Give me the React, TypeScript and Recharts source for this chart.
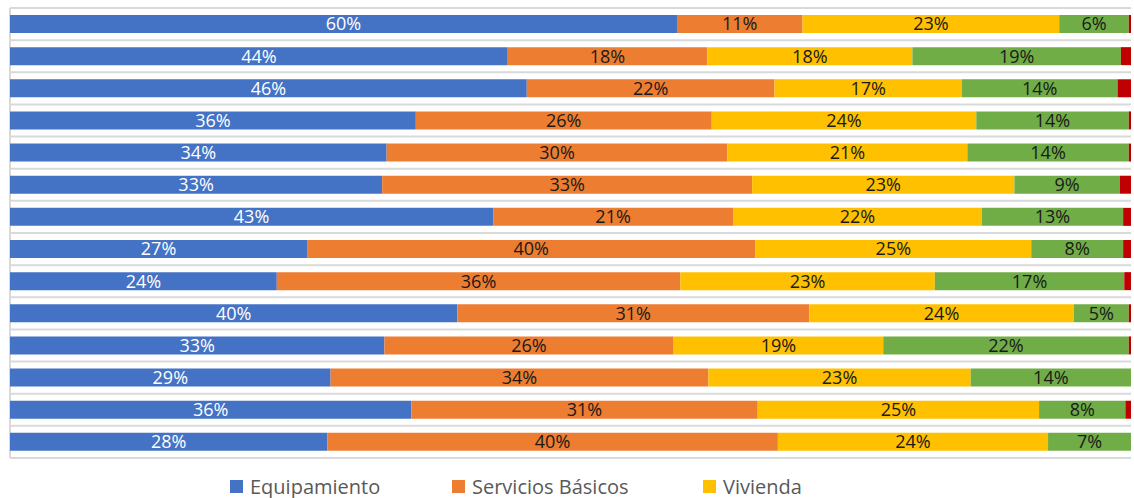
import React from "react";
import {
  BarChart,
  Bar,
  XAxis,
  YAxis,
  CartesianGrid,
  Legend,
  LabelList,
} from "recharts";

const categories = [
  "1", "2", "3", "4", "5", "6", "7", "8", "9", "10", "11", "12", "13", "14",
];

const equipamiento = [59.5, 44.4, 46.1, 36.2, 33.6, 33.2, 43.1, 26.5, 23.8, 39.9, 33.4, 28.6, 35.8, 28.3];
const serviciosBasicos = [11.2, 17.8, 22.1, 26.4, 30.4, 33.0, 21.4, 40.0, 36.0, 31.4, 25.8, 33.7, 30.9, 40.2];
const vivienda = [22.9, 18.3, 16.7, 23.6, 21.4, 23.4, 22.2, 24.6, 22.7, 23.6, 18.7, 23.4, 25.1, 24.1];
const espacioPublico = [6.2, 18.6, 13.9, 13.6, 14.4, 9.4, 12.6, 8.2, 16.9, 4.9, 21.9, 14.3, 7.7, 7.4];
const otros = [0.2, 0.9, 1.2, 0.2, 0.2, 1.0, 0.7, 0.7, 0.6, 0.2, 0.2, 0, 0.5, 0];

const data = categories.map((name, i) => ({
  name,
  equipamiento: equipamiento[i],
  servicios: serviciosBasicos[i],
  vivienda: vivienda[i],
  espacio: espacioPublico[i],
  otros: otros[i],
}));

const FONT = "'Open Sans', sans-serif";
const pct = (v: any) => `${Math.round(Number(v))}%`;

// only the first row of the legend is visible in the reference
const legendShown = ["Equipamiento", "Servicios Básicos", "Vivienda"];
const legendLeft = [230, 452, 703];

function LegendContent({ payload }: any) {
  const items = legendShown
    .map((name) => (payload || []).find((p: any) => p.value === name))
    .filter(Boolean);
  return (
    <div style={{ position: "relative", height: 26, fontFamily: FONT }}>
      {items.map((it: any, i: number) => (
        <div
          key={it.value}
          style={{
            position: "absolute",
            left: legendLeft[i],
            top: 0,
            display: "flex",
            alignItems: "center",
            whiteSpace: "nowrap",
          }}
        >
          <span
            style={{
              width: 13,
              height: 13,
              background: it.color,
              display: "inline-block",
              marginRight: 7,
            }}
          />
          <span style={{ fontSize: 20, color: "#595959" }}>{it.value}</span>
        </div>
      ))}
    </div>
  );
}

const labelStyle = { fontFamily: FONT, fontSize: 18 };

export default function App() {
  return (
    <div style={{ position: "absolute", left: 0, top: 0, background: "#fff" }}>
      <BarChart
        width={1134}
        height={498}
        data={data}
        layout="vertical"
        margin={{ top: 8, right: 3, bottom: 14, left: 10 }}
        barSize={18}
      >
        <CartesianGrid
          stroke="#d9d9d9"
          strokeWidth={2}
          horizontalCoordinatesGenerator={({ offset }: any) =>
            Array.from({ length: categories.length + 1 }, (_, i) =>
              offset.top + (i * offset.height) / categories.length
            )
          }
          verticalCoordinatesGenerator={({ offset }: any) => [offset.left]}
        />
        <XAxis type="number" domain={[0, 100]} hide />
        <YAxis
          type="category"
          dataKey="name"
          width={0}
          tick={false}
          tickLine={false}
          axisLine={false}
        />
        <Legend
          verticalAlign="bottom"
          content={<LegendContent />}
          wrapperStyle={{ left: 0, top: 473, width: 1134 }}
        />
        <Bar dataKey="equipamiento" name="Equipamiento" stackId="a" fill="#4472C4" isAnimationActive={false}>
          <LabelList dataKey="equipamiento" position="center" formatter={pct} fill="#ffffff" style={labelStyle} />
        </Bar>
        <Bar dataKey="servicios" name="Servicios Básicos" stackId="a" fill="#ED7D31" isAnimationActive={false}>
          <LabelList dataKey="servicios" position="center" formatter={pct} fill="#1a1a1a" style={labelStyle} />
        </Bar>
        <Bar dataKey="vivienda" name="Vivienda" stackId="a" fill="#FFC000" isAnimationActive={false}>
          <LabelList dataKey="vivienda" position="center" formatter={pct} fill="#1a1a1a" style={labelStyle} />
        </Bar>
        <Bar dataKey="espacio" name="Espacio Público" stackId="a" fill="#70AD47" isAnimationActive={false}>
          <LabelList dataKey="espacio" position="center" formatter={pct} fill="#1a1a1a" style={labelStyle} />
        </Bar>
        <Bar dataKey="otros" name="Otros" stackId="a" fill="#C00000" isAnimationActive={false} />
      </BarChart>
    </div>
  );
}
